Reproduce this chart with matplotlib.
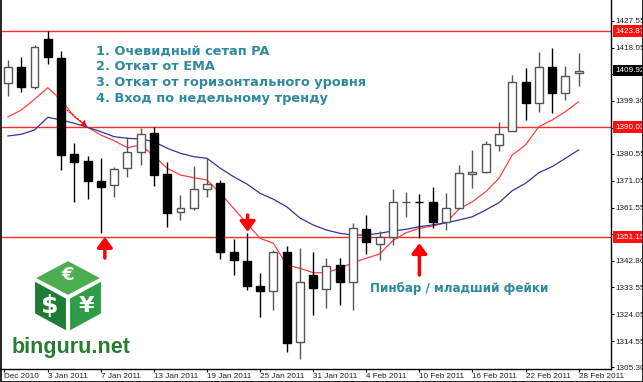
import numpy as np
import matplotlib.pyplot as plt
from matplotlib.patches import Polygon
from matplotlib.transforms import blended_transform_factory

# daily candles, 29 Dec 2010 .. 28 Feb 2011
opens = [1405.68, 1411.32, 1404.06, 1420.99, 1414.50, 1380.42, 1378.06, 1371.11, 1369.70, 1375.49,
         1381.13, 1387.83, 1373.37, 1360.18, 1361.38, 1368.08, 1370.20, 1346.07, 1342.89, 1334.08,
         1332.31, 1345.86, 1314.32, 1337.85, 1332.81, 1341.38, 1335.27, 1354.08, 1348.78, 1351.15,
         1363.45, 1363.55, 1363.71, 1356.44, 1361.38, 1373.48, 1374.08, 1383.71, 1388.75, 1406.03,
         1398.63, 1411.32, 1402.15, 1409.00]
highs = [1413.69, 1414.64, 1418.98, 1423.87, 1416.97, 1384.52, 1379.83, 1379.01, 1376.05, 1386.42,
         1389.60, 1390.03, 1377.81, 1366.07, 1376.30, 1379.01, 1371.36, 1350.44, 1352.66, 1338.66,
         1346.67, 1348.08, 1347.27, 1346.07, 1343.74, 1343.74, 1356.09, 1359.01, 1353.48, 1368.08,
         1367.23, 1366.42, 1368.78, 1366.67, 1376.65, 1381.94, 1385.12, 1391.71, 1408.40, 1410.97,
         1416.62, 1418.03, 1411.57, 1416.26]
lows = [1400.99, 1402.51, 1403.60, 1412.17, 1374.89, 1363.71, 1364.66, 1352.50, 1365.47, 1372.52,
        1376.65, 1369.35, 1354.89, 1357.25, 1360.78, 1365.47, 1343.39, 1337.85, 1332.56, 1323.14,
        1325.50, 1310.80, 1308.22, 1323.74, 1326.10, 1327.27, 1325.50, 1345.26, 1343.14, 1348.43,
        1358.41, 1351.00, 1354.32, 1353.72, 1361.02, 1368.43, 1373.90, 1381.69, 1388.50, 1392.52,
        1395.45, 1395.10, 1399.58, 1404.52]
closes = [1411.32, 1404.27, 1418.38, 1414.64, 1380.18, 1377.81, 1371.11, 1368.78, 1375.35, 1381.13,
          1387.48, 1373.12, 1359.83, 1361.38, 1368.08, 1369.84, 1346.07, 1343.14, 1334.08, 1332.31,
          1345.86, 1313.97, 1335.49, 1333.16, 1341.13, 1335.27, 1354.32, 1349.38, 1351.15, 1363.49,
          1363.55, 1363.45, 1356.65, 1361.59, 1373.72, 1374.29, 1383.95, 1387.59, 1406.03, 1398.63,
          1411.32, 1402.15, 1408.04, 1409.92]

# moving averages
ema_fast = [1393.58, 1396.05, 1399.83, 1403.92, 1399.58, 1393.69, 1389.95, 1387.23, 1385.22, 1382.75,
            1383.71, 1379.83, 1375.49, 1373.12, 1372.17, 1371.36, 1366.67, 1361.38, 1356.09, 1350.80,
            1349.03, 1341.38, 1340.21, 1338.66, 1338.66, 1340.21, 1342.19, 1343.74, 1345.26, 1349.95,
            1352.77, 1354.32, 1355.13, 1356.30, 1361.13, 1363.71, 1367.23, 1371.96, 1380.18, 1383.71,
            1390.16, 1392.52, 1395.45, 1398.98]
ema_slow = [1386.88, 1387.48, 1389.00, 1393.48, 1392.52, 1391.36, 1389.95, 1388.40, 1386.63, 1386.07,
            1385.82, 1384.87, 1382.54, 1380.78, 1379.58, 1379.01, 1375.49, 1372.52, 1369.95, 1366.67,
            1364.55, 1361.94, 1357.96, 1355.49, 1353.72, 1352.56, 1351.96, 1351.96, 1352.56, 1353.37,
            1353.97, 1354.89, 1355.49, 1356.30, 1357.25, 1358.41, 1360.78, 1363.35, 1367.59, 1370.20,
            1373.94, 1376.05, 1379.01, 1381.94]

levels = [1423.87, 1390.03, 1351.15]
y_ticks = [1427.55, 1418.05, 1408.80, 1399.30, 1389.80, 1380.55, 1371.05, 1361.55, 1352.30,
           1342.80, 1333.55, 1324.05, 1314.55, 1305.30]
date_pos = [-0.3, 3, 7, 11, 15, 19, 23, 27, 31, 35, 39, 43]
date_labels = ['Dec 2010', '3 Jan 2011', '7 Jan 2011', '13 Jan 2011', '19 Jan 2011', '25 Jan 2011',
               '31 Jan 2011', '4 Feb 2011', '10 Feb 2011', '16 Feb 2011', '22 Feb 2011', '28 Feb 2011']
notes = ['1. Очевидный сетап PA', '2. Откат от EMA', '3. Откат от горизонтального уровня',
         '4. Вход по недельному тренду']
pin_note = 'Пинбар / младший фейки'

W, H = 643, 382
fig = plt.figure(figsize=(W / 100, H / 100), dpi=100)
ax = fig.add_axes([0, 13 / H, 611 / W, 369 / H])
ax.set_xlim(-0.6, 45.44)
ax.set_ylim(1304.69, 1434.85)

x = np.arange(len(opens))
o = np.array(opens); c = np.array(closes)
up = c >= o
edge = np.where(up, '#555555', 'black')
fill = np.where(up, 'white', 'black')
body_h = np.maximum(np.abs(c - o), 0.05)

for lv in levels:
    ax.axhline(lv, color='#ff2a2a', lw=1, zorder=1)
ax.plot(x, ema_fast, color='#ff4040', lw=0.9, zorder=1.5)
ax.plot(x, ema_slow, color='#34349c', lw=0.9, zorder=1.5)
ax.vlines(x, lows, highs, colors=edge, lw=1, zorder=2)
ax.bar(x, body_h, bottom=np.minimum(o, c), width=0.6, color=fill, edgecolor=edge, lw=1, zorder=3)

# axes look
for s in ['top', 'left']:
    ax.spines[s].set_visible(False)
ax.spines['right'].set_linewidth(1)
ax.spines['bottom'].set_linewidth(1)
ax.yaxis.tick_right()
ax.set_yticks(y_ticks)
ax.set_yticklabels(['%.2f' % v for v in y_ticks])
ax.set_xticks(date_pos)
ax.set_xticklabels(date_labels, ha='left')
ax.tick_params(axis='y', length=2.2, labelsize=5.9, pad=1, labelfontfamily='Liberation Sans',
               labelcolor='#222222')
ax.tick_params(axis='x', length=2.2, labelsize=5.9, pad=0.8, labelfontfamily='Liberation Sans',
               labelcolor='#222222')

trans = blended_transform_factory(ax.transAxes, ax.transData)
for lv in levels:
    ax.text(1.0075, lv, '%.2f' % lv, transform=trans, ha='left', va='center', fontsize=5.9,
            family='Liberation Sans', color='white', clip_on=False, zorder=6,
            bbox=dict(boxstyle='square,pad=0.28', fc='#ff1010', ec='none'))
ax.text(1.0075, closes[-1], '%.2f' % closes[-1], transform=trans, ha='left', va='center',
        fontsize=5.9, family='Liberation Sans', color='white', clip_on=False, zorder=6,
        bbox=dict(boxstyle='square,pad=0.28', fc='black', ec='none'))

# red arrows
arw = dict(arrowstyle='-|>,head_length=6,head_width=4.5', mutation_scale=1, color='red', lw=2.5,
           shrinkA=0, shrinkB=0)
ax.annotate('', xy=(7.3, 1351.25), xytext=(7.3, 1343.85), arrowprops=arw, zorder=7)
ax.annotate('', xy=(31.0, 1349.1), xytext=(31.0, 1337.85), arrowprops=arw, zorder=7)
ax.annotate('', xy=(18.06, 1353.1), xytext=(18.06, 1359.0), arrowprops=arw, zorder=7)
ax.annotate('', xy=(5.95, 1390.3), xytext=(4.45, 1396.0),
            arrowprops=dict(arrowstyle='-|>,head_length=3,head_width=2', mutation_scale=1,
                            color='red', lw=0.9, ls=':', shrinkA=0, shrinkB=0), zorder=7)

# overlay in pixel coords for texts and logo
ov = fig.add_axes([0, 0, 1, 1], zorder=10)
ov.set_xlim(0, W); ov.set_ylim(H, 0); ov.axis('off')
teal = '#2e8a9e'
for i, s in enumerate(notes):
    ov.text(96, 50.7 + 16 * i, s, fontsize=9.3, fontweight='bold', color=teal, va='center')
ov.text(370, 288.5, pin_note, fontsize=8.6, fontweight='bold', color=teal, va='center')

# binguru logo cube
ov.add_patch(Polygon([(68, 260), (34, 278), (68, 296), (102, 278)], closed=True, fc='#4cae50', ec='white', lw=1.5))
ov.add_patch(Polygon([(34, 280), (67, 298), (67, 332), (34, 314)], closed=True, fc='#1f7b36', ec='white', lw=1.5))
ov.add_patch(Polygon([(69, 298), (102, 280), (102, 314), (69, 332)], closed=True, fc='#2e9c48', ec='white', lw=1.5))
ov.text(68, 275, '€', fontsize=13, fontweight='bold', color='white', ha='center', va='center')
ov.text(50, 306, '$', fontsize=18, fontweight='bold', color='white', ha='center', va='center')
ov.text(86, 306, '¥', fontsize=16, fontweight='bold', color='white', ha='center', va='center')
ov.text(12, 348, 'binguru.net', fontsize=15.5, fontweight='bold', color='#2b7c30', va='center',
        family='Liberation Sans')

# outer frame
ov.plot([0.5, 0.5, W - 0.5, W - 0.5], [0, H - 0.5, H - 0.5, 0], color='black', lw=1.2)

fig.savefig('out.png', dpi=100)
